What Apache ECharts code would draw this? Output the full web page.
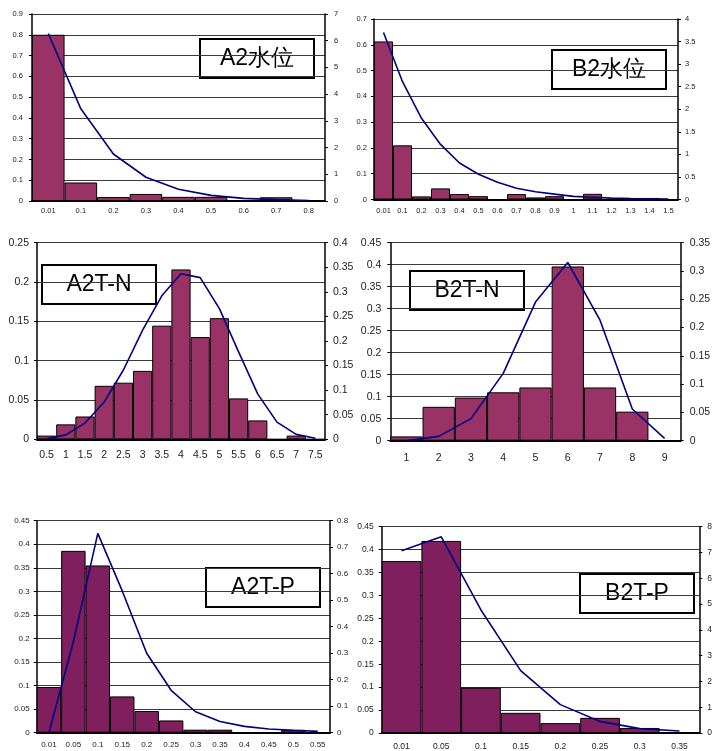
<!DOCTYPE html>
<html><head><meta charset="utf-8">
<script src="https://cdn.jsdelivr.net/npm/echarts@6/dist/echarts.min.js"></script>
<style>html,body{margin:0;padding:0;background:#fff}#c{width:718px;height:751px}</style>
</head><body><div id="c"></div>
<script>
// ---- Data ----
const a2wCats = ['0.01','0.1','0.2','0.3','0.4','0.5','0.6','0.7','0.8'];
const a2wBars = [0.8, 0.089, 0.019, 0.034, 0.02, 0.02, 0, 0.018, 0];
const a2wLine = [6.27, 3.45, 1.76, 0.89, 0.44, 0.21, 0.10, 0.05, 0.02];

const b2wCats = ['0.01','0.1','0.2','0.3','0.4','0.5','0.6','0.7','0.8','0.9','1','1.1','1.2','1.3','1.4','1.5'];
const b2wBars = [0.613, 0.21, 0.012, 0.043, 0.021, 0.013, 0, 0.021, 0.008, 0.013, 0, 0.022, 0, 0.006, 0.006, 0];
const b2wLine = [3.70, 2.61, 1.80, 1.22, 0.81, 0.56, 0.38, 0.25, 0.17, 0.12, 0.07, 0.05, 0.03, 0.02, 0.015, 0.01];

const a2nCats = ['0.5','1','1.5','2','2.5','3','3.5','4','4.5','5','5.5','6','6.5','7','7.5'];
const a2nBars = [0.0047, 0.019, 0.029, 0.068, 0.072, 0.087, 0.1445, 0.216, 0.130, 0.154, 0.052, 0.024, 0, 0.0047, 0];
const a2nLine = [0.001, 0.009, 0.033, 0.076, 0.141, 0.222, 0.292, 0.337, 0.329, 0.266, 0.178, 0.092, 0.035, 0.010, 0.002];

const b2nCats = ['1','2','3','4','5','6','7','8','9'];
const b2nBars = [0.0098, 0.077, 0.098, 0.110, 0.121, 0.396, 0.121, 0.066, 0];
const b2nLine = [0, 0.0077, 0.039, 0.119, 0.245, 0.315, 0.213, 0.056, 0.004];

const a2pCats = ['0.01','0.05','0.1','0.15','0.2','0.25','0.3','0.35','0.4','0.45','0.5','0.55'];
const a2pBars = [0.097, 0.386, 0.355, 0.077, 0.046, 0.026, 0.0064, 0.0064, 0, 0, 0.006, 0];
const a2pLine = [0, 0.343, 0.752, 0.535, 0.30, 0.16, 0.079, 0.042, 0.024, 0.014, 0.009, 0.005];

const b2pCats = ['0.01','0.05','0.1','0.15','0.2','0.25','0.3','0.35'];
const b2pBars = [0.375, 0.419, 0.099, 0.044, 0.0215, 0.033, 0.011, 0];
const b2pLine = [7.07, 7.61, 4.77, 2.42, 1.10, 0.45, 0.17, 0.08];

const titles = ['A2水位','B2水位','A2T-N','B2T-N','A2T-P','B2T-P'];

// ---- Layout / style ----
const panels = [
  {cats:a2wCats, bars:a2wBars, line:a2wLine, lMax:0.9, lInt:0.1, rMax:7, rInt:1, color:'#993366', fs:7.5, xm:6, ym:9,
   grid:{left:32, top:14, width:293, height:187}, box:[199,38]},
  {cats:b2wCats, bars:b2wBars, line:b2wLine, lMax:0.7, lInt:0.1, rMax:4, rInt:0.5, color:'#993366', fs:7.5, xm:7, ym:7,
   grid:{left:374, top:19, width:304, height:180.5}, box:[551,49]},
  {cats:a2nCats, bars:a2nBars, line:a2nLine, lMax:0.25, lInt:0.05, rMax:0.4, rInt:0.05, color:'#993366', fs:10.5, xm:10, ym:8,
   grid:{left:37, top:242.7, width:288, height:196.6}, box:[41,264]},
  {cats:b2nCats, bars:b2nBars, line:b2nLine, lMax:0.45, lInt:0.05, rMax:0.35, rInt:0.05, color:'#993366', fs:10.5, xm:12, ym:9,
   grid:{left:390.3, top:242.7, width:290.4, height:198}, box:[409,270]},
  {cats:a2pCats, bars:a2pBars, line:a2pLine, lMax:0.45, lInt:0.05, rMax:0.8, rInt:0.1, color:'#801F5E', fs:8, xm:8, ym:7,
   grid:{left:36.7, top:520.7, width:293.3, height:212}, box:[205,567]},
  {cats:b2pCats, bars:b2pBars, line:b2pLine, lMax:0.45, lInt:0.05, rMax:8, rInt:1, color:'#801F5E', fs:8.5, xm:9, ym:8,
   grid:{left:381.7, top:526.7, width:317.6, height:209}, box:[579,573]}
];

const FONT = '"Liberation Sans", Arial, sans-serif';
const fmt = v => String(+(+v).toFixed(3));
const grids = [], xAxes = [], yAxes = [], series = [], graphics = [];

panels.forEach((p, i) => {
  grids.push(Object.assign({containLabel:false}, p.grid));
  xAxes.push({
    type:'category', gridIndex:i, data:p.cats, boundaryGap:true,
    axisLine:{show:true, lineStyle:{color:'#000', width:2}},
    axisTick:{show:false},
    axisLabel:{interval:0, fontSize:p.fs, color:'#222', margin:p.xm, fontFamily:FONT},
    splitLine:{show:false}
  });
  yAxes.push({
    type:'value', gridIndex:i, position:'left', min:0, max:p.lMax, interval:p.lInt,
    axisLine:{show:true, lineStyle:{color:'#000', width:1.5}},
    axisTick:{show:true, length:3, lineStyle:{color:'#000'}},
    axisLabel:{fontSize:p.fs, color:'#222', margin:p.ym, fontFamily:FONT, formatter:fmt},
    splitLine:{show:true, lineStyle:{color:'#3a3a3a', width:1}}
  });
  yAxes.push({
    type:'value', gridIndex:i, position:'right', min:0, max:p.rMax, interval:p.rInt,
    axisLine:{show:true, lineStyle:{color:'#000', width:1.5}},
    axisTick:{show:true, length:3, lineStyle:{color:'#000'}},
    axisLabel:{fontSize:p.fs, color:'#222', margin:p.ym, fontFamily:FONT, formatter:fmt},
    splitLine:{show:false}
  });
  series.push({
    type:'bar', xAxisIndex:i, yAxisIndex:2*i, data:p.bars,
    barCategoryGap:'0%', barGap:'0%',
    itemStyle:{color:p.color, borderColor:'#000', borderWidth:1},
    silent:true, animation:false, z:2
  });
  series.push({
    type:'line', xAxisIndex:i, yAxisIndex:2*i+1, data:p.line,
    showSymbol:false, smooth:false,
    lineStyle:{color:'#000080', width:1.6},
    silent:true, animation:false, z:3
  });
  graphics.push({
    type:'group', left:p.box[0], top:p.box[1], z:100,
    children:[
      {type:'rect', shape:{x:0, y:0, width:114, height:39},
       style:{fill:'#fff', stroke:'#000', lineWidth:2}},
      {type:'text', x:57, y:20,
       style:{text:titles[i], fill:'#000', font:'23px ' + FONT, textAlign:'center', textVerticalAlign:'middle'}}
    ]
  });
});

const chart = echarts.init(document.getElementById('c'), null, {renderer:'canvas'});
chart.setOption({
  animation:false,
  backgroundColor:'#fff',
  grid:grids, xAxis:xAxes, yAxis:yAxes, series:series, graphic:graphics
});
</script>
</body></html>
